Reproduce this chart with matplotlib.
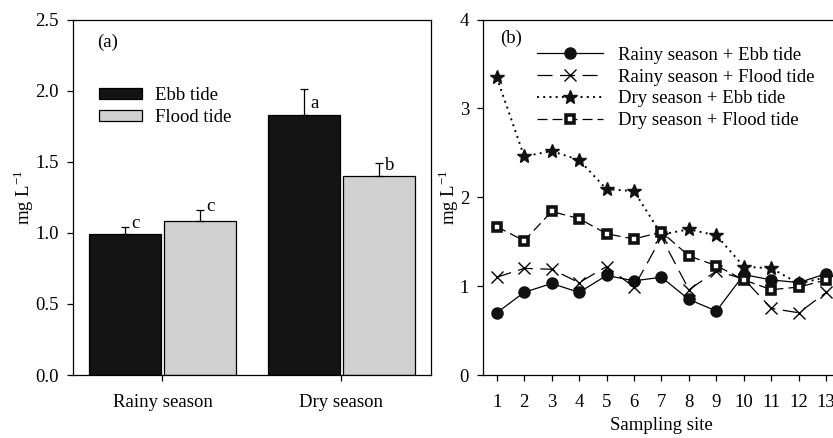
import numpy as np
import matplotlib
matplotlib.use("Agg")
import matplotlib.pyplot as plt

plt.rcParams["font.family"] = ["Liberation Serif", "DejaVu Serif"]
plt.rcParams["mathtext.fontset"] = "custom"
plt.rcParams["mathtext.rm"] = "Liberation Serif"
plt.rcParams["font.size"] = 13.5
plt.rcParams["axes.linewidth"] = 0.9
plt.rcParams["xtick.direction"] = "out"
plt.rcParams["ytick.direction"] = "out"

# ---------------------------------------------------------------
# (a) season / tide means
# ---------------------------------------------------------------
SEASONS = ["Rainy season", "Dry season"]
EBB_MEAN = [0.99, 1.83]
EBB_ERR = [0.05, 0.18]
FLOOD_MEAN = [1.08, 1.40]
FLOOD_ERR = [0.08, 0.09]
EBB_LETTERS = ["c", "a"]
FLOOD_LETTERS = ["c", "b"]

# ---------------------------------------------------------------
# (b) values per sampling site
# ---------------------------------------------------------------
SITES = np.arange(1, 14)
RAINY_EBB = [0.70, 0.93, 1.03, 0.93, 1.12, 1.06, 1.10, 0.85, 0.72, 1.13, 1.07, 1.04, 1.14]
RAINY_FLOOD = [1.10, 1.20, 1.19, 1.04, 1.22, 0.99, 1.55, 0.96, 1.17, 1.08, 0.75, 0.70, 0.93]
DRY_EBB = [3.35, 2.46, 2.52, 2.42, 2.09, 2.07, 1.58, 1.64, 1.57, 1.22, 1.20, 1.03, 1.10]
DRY_FLOOD = [1.67, 1.51, 1.84, 1.76, 1.59, 1.53, 1.61, 1.34, 1.23, 1.07, 0.96, 0.99, 1.07]

YLABEL = r"mg L$^{\mathregular{-1}}$"

fig = plt.figure(figsize=(8.33, 4.38), dpi=100)
ax1 = fig.add_axes([0.0876, 0.1438, 0.4298, 0.8116])
ax2 = fig.add_axes([0.5798, 0.1438, 0.4286, 0.8116])

# ---- panel (a): bars ----
x = np.arange(len(SEASONS))
w = 0.4
off = 0.21
ax1.bar(x - off, EBB_MEAN, w, color="#141414", edgecolor="black", linewidth=0.9,
        label="Ebb tide", zorder=2)
ax1.bar(x + off, FLOOD_MEAN, w, color="#d0d0d0", edgecolor="black", linewidth=0.9,
        label="Flood tide", zorder=2)
ax1.errorbar(x - off, EBB_MEAN, yerr=[np.zeros(2), EBB_ERR], fmt="none",
             ecolor="black", elinewidth=0.9, capsize=3, capthick=0.9, zorder=3)
ax1.errorbar(x + off, FLOOD_MEAN, yerr=[np.zeros(2), FLOOD_ERR], fmt="none",
             ecolor="black", elinewidth=0.9, capsize=3, capthick=0.9, zorder=3)

letter_dy = {"c": 0.025, "a": -0.1, "b": -0.02}
for xi, m, e, t in zip(x - off, EBB_MEAN, EBB_ERR, EBB_LETTERS):
    ax1.text(xi + 0.035, m + e + letter_dy[t], t, ha="left", va="center")
for xi, m, e, t in zip(x + off, FLOOD_MEAN, FLOOD_ERR, FLOOD_LETTERS):
    ax1.text(xi + 0.035, m + e + letter_dy[t], t, ha="left", va="center")

ax1.set_xlim(-0.5, 1.5)
ax1.set_ylim(0, 2.5)
ax1.set_xticks(x)
ax1.set_xticklabels(SEASONS)
ax1.set_yticks(np.arange(0, 2.51, 0.5))
ax1.set_yticklabels([f"{v:.1f}" for v in np.arange(0, 2.51, 0.5)])
ax1.tick_params(axis="x", length=4, width=0.9, pad=10)
ax1.tick_params(axis="y", length=4, width=0.9, pad=6)
ax1.set_ylabel(YLABEL, labelpad=0)
ax1.text(0.068, 0.937, "(a)", transform=ax1.transAxes, ha="left", va="center")
ax1.legend(loc="upper left", bbox_to_anchor=(0.052, 0.83), frameon=False,
           handlelength=2.3, handleheight=0.5, handletextpad=0.7,
           labelspacing=0.25, borderaxespad=0)

# ---- panel (b): site profiles ----
lw = 0.9
ax2.plot(SITES, RAINY_EBB, color="black", lw=lw, ls="-", marker="o", ms=8,
         mfc="#111111", mec="#111111", label="Rainy season + Ebb tide", zorder=3)
ax2.plot(SITES, RAINY_FLOOD, color="black", lw=lw, ls=(0, (12, 6)), marker="x", ms=8,
         mew=1.0, label="Rainy season + Flood tide", zorder=3)
ax2.plot(SITES, DRY_EBB, color="black", lw=1.4, ls=(0, (1, 2.2)), marker="*", ms=10,
         mfc="#111111", mec="#111111", label="Dry season + Ebb tide", zorder=3)
ax2.plot(SITES, DRY_FLOOD, color="black", lw=lw, ls=(0, (8, 4)), marker="s", ms=6,
         mfc="white", mec="#111111", mew=2.6, label="Dry season + Flood tide", zorder=4)

ax2.set_xlim(0.5, 13.5)
ax2.set_ylim(0, 4)
ax2.set_xticks(SITES)
ax2.set_yticks(range(0, 5))
ax2.tick_params(axis="x", length=4, width=0.9, pad=10)
ax2.tick_params(axis="y", length=4, width=0.9, pad=6)
ax2.set_xlabel("Sampling site", labelpad=4)
ax2.set_ylabel(YLABEL, labelpad=-1)
ax2.text(0.048, 0.948, "(b)", transform=ax2.transAxes, ha="left", va="center")
ax2.legend(loc="upper left", bbox_to_anchor=(0.13, 0.945), frameon=False,
           handlelength=3.5, handletextpad=0.85, labelspacing=0.25,
           borderaxespad=0)

fig.savefig("out.png", dpi=100)
